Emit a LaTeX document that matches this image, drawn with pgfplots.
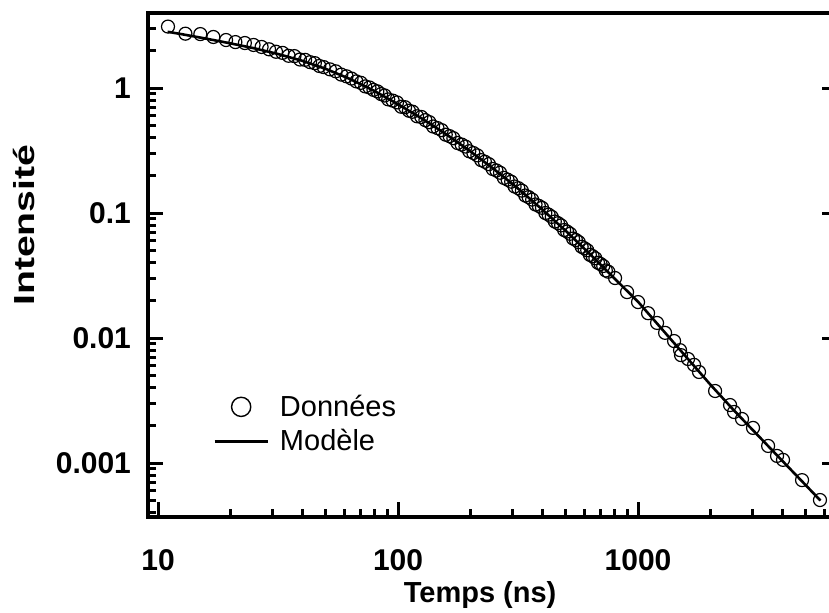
\documentclass[border=0pt]{standalone}
\usepackage{fontspec}
\setmainfont{Liberation Sans}
\usepackage{graphicx}
\usepackage{pgfplots}
\usepackage{pgfplotstable}
\pgfplotsset{compat=1.18}
\pgfplotsset{
  circlelegend/.style={legend image code/.code={\path[draw=none,fill=none] (0pt,-3pt) rectangle (26.5pt,3pt); \draw[black, line width=0.7pt, fill=none] (13.25pt,0pt) circle[radius=4.8pt];}},
  linelegend/.style={legend image code/.code={\draw[##1] (0pt,0pt) -- (26.5pt,0pt);}},
}

\pgfplotstableread{
x y
11 3.10
13 2.72
15 2.70
17 2.56
19.2 2.42
21 2.33
23 2.29
25 2.21
27 2.13
29 2.04
31 1.95
33 1.91
35 1.81
37 1.80
39 1.69
41 1.68
43 1.61
45 1.58
47 1.50
49 1.47
52 1.41
55 1.36
58 1.28
61 1.24
64 1.19
67 1.13
70 1.10
73 1.03
76 1.01
79 0.966
82 0.940
85 0.894
88 0.871
91 0.811
95 0.793
99 0.767
103 0.708
107 0.702
111 0.658
115 0.646
120 0.594
125 0.587
130 0.553
135 0.533
140 0.492
146 0.478
152 0.460
158 0.423
164 0.412
170 0.397
177 0.363
184 0.353
191 0.340
198 0.312
206 0.302
214 0.289
222 0.265
230 0.257
239 0.246
248 0.225
257 0.219
266 0.210
276 0.191
286 0.185
296 0.178
306 0.163
317 0.158
328 0.151
339 0.138
350 0.134
362 0.128
374 0.117
386 0.114
398 0.110
411 0.100
424 0.0970
437 0.0931
450 0.0855
464 0.0829
478 0.0796
492 0.0731
506 0.0711
521 0.0682
536 0.0625
551 0.0608
566 0.0585
582 0.0537
598 0.0522
614 0.0504
630 0.0463
647 0.0451
664 0.0434
681 0.0400
698 0.0391
716 0.0377
734 0.0347
752 0.0339
802 0.0302
900 0.0233
1000 0.0194
1101 0.0158
1200 0.0132
1296 0.0110
1413 0.00946
1496 0.0080
1510 0.0073
1615 0.0068
1711 0.0061
1795 0.00535
2094 0.00377
2417 0.00291
2512 0.00256
2711 0.00225
3013 0.00191
3483 0.00137
3794 0.00114
4018 0.00106
4823 0.00073
5728 0.000506
}\donnees

\pgfplotstableread{
x y
10.96 2.818
12.59 2.692
15.85 2.483
19.95 2.280
25.12 2.080
31.62 1.871
39.81 1.652
50.12 1.419
63.10 1.180
79.43 0.951
100.0 0.741
125.9 0.569
158.5 0.427
199.5 0.313
251.2 0.224
316.2 0.157
398.1 0.107
501.2 0.0716
631.0 0.0468
794.3 0.0302
1000 0.0195
1259 0.01175
1585 0.00708
1995 0.00427
2512 0.00263
3162 0.00166
3981 0.001047
5012 0.000661
5754 0.000501
}\modele

\begin{document}
\begin{tikzpicture}
\begin{loglogaxis}[
  scale only axis, width=344.5pt, height=252pt,
  xmin=9.08, xmax=6745, ymin=3.7e-4, ymax=3.98,
  axis line style={line width=2pt},
  every tick/.style={black, line width=1.5pt},
  major tick length=7.5pt, minor tick length=4pt,
  tick align=inside,
  xtick pos=left, ytick pos=both,
  xtick={10,100,1000}, xticklabels={10,100,1000},
  ytick={0.001,0.01,0.1,1}, yticklabels={0.001,0.01,0.1,1},
  minor xtick={20,30,40,50,60,70,80,90,200,300,400,500,600,700,800,900,2000,3000,4000,5000,6000},
  minor ytick={0.0004,0.0005,0.0006,0.0007,0.0008,0.0009,0.002,0.003,0.004,0.005,0.006,0.007,0.008,0.009,0.02,0.03,0.04,0.05,0.06,0.07,0.08,0.09,0.2,0.3,0.4,0.5,0.6,0.7,0.8,0.9,2,3},
  /pgf/number format/assume math mode=true,
  tick label style={font=\bfseries\fontsize{15}{16}\selectfont},
  xticklabel shift=12.5pt,
  yticklabel shift=5pt,
  xlabel={Temps (ns)},
  ylabel={\scalebox{1.35}[1]{Intensité}},
  label style={font=\bfseries\fontsize{14.5}{16}\selectfont},
  xlabel style={at={(axis description cs:0.482,0)}, anchor=center, yshift=-38.8pt},
  ylabel style={at={(axis description cs:0,0.579)}, anchor=center, yshift=62pt},
  legend cell align=left,
  legend style={draw=none, fill=none, at={(axis description cs:0.0943,0.1845)}, anchor=west,
    inner sep=0pt, row sep=3pt, font=\fontsize{14.5}{16}\selectfont,
    nodes={inner sep=1pt}},
]
\addplot[only marks, mark=o, mark size=3.25pt, mark options={line width=0.6pt, black}, circlelegend]
  table[x=x,y=y] {\donnees};
\addlegendentry{\hspace{4.5pt}Données}
\addplot[black, line width=1.3pt, mark=none, linelegend]
  table[x=x,y=y] {\modele};
\addlegendentry{\hspace{4.5pt}Modèle}
\end{loglogaxis}
\pgfresetboundingbox
\useasboundingbox (-74pt,-47.5pt) rectangle (340.5pt,258.5pt);
\end{tikzpicture}
\end{document}
